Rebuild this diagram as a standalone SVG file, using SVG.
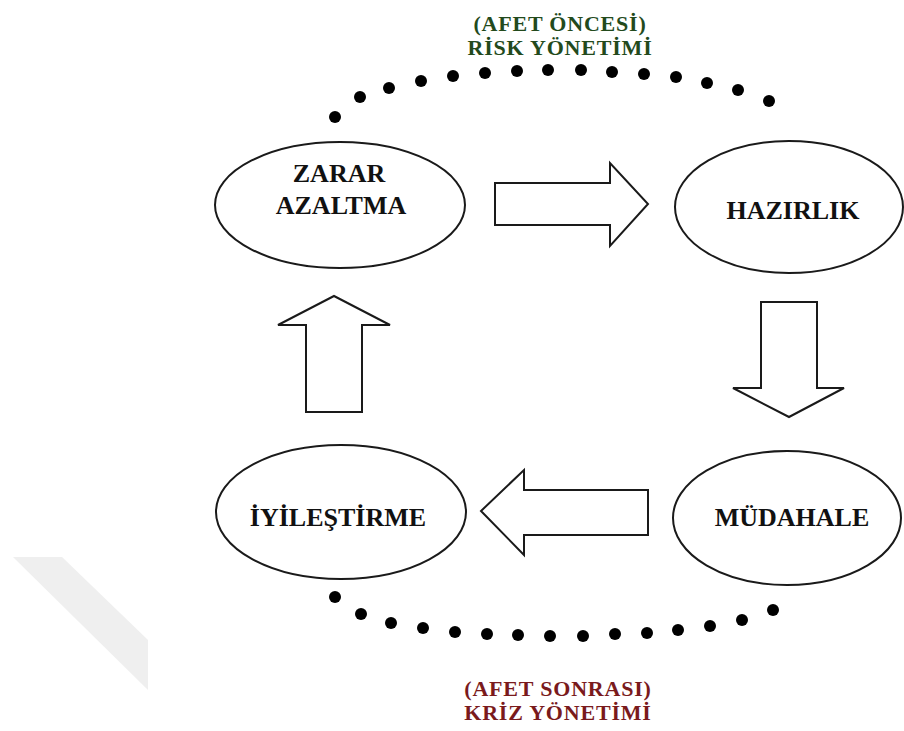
<svg xmlns="http://www.w3.org/2000/svg" width="904" height="731" viewBox="0 0 904 731">
<defs>
<style>
.node ellipse{fill:#fff;stroke:#1a1a1a;stroke-width:2}
.lbl{font-family:"Liberation Serif","Times New Roman",serif;font-weight:bold;font-size:26px;fill:#111;text-anchor:middle}
.arrow{fill:#fff;stroke:#1a1a1a;stroke-width:2;stroke-linejoin:miter}
.dots circle{fill:#000}
.ttl{font-family:"Liberation Serif","Times New Roman",serif;font-weight:bold;font-size:22px;letter-spacing:0.8px;text-anchor:middle}
.green{fill:#234a1c}
.red{fill:#7a1a1c}
</style>
</defs>
<rect width="904" height="731" fill="#fff"/>
<polygon points="13,557 62,557 148,640 148,690" fill="#efefef"/>

<g id="title-top" class="ttl green">
<text x="560" y="31">(AFET ÖNCESİ)</text>
<text x="560" y="55">RİSK YÖNETİMİ</text>
</g>
<g id="title-bottom" class="ttl red">
<text x="558" y="696">(AFET SONRASI)</text>
<text x="558" y="720">KRİZ YÖNETİMİ</text>
</g>

<g id="dots-top" class="dots">
<circle cx="335" cy="117" r="6"/><circle cx="360" cy="97" r="6"/><circle cx="389" cy="88" r="6"/><circle cx="421" cy="81" r="6"/><circle cx="453" cy="76" r="6"/><circle cx="485" cy="73" r="6"/><circle cx="517" cy="71" r="6"/><circle cx="548" cy="70" r="6"/><circle cx="581" cy="70" r="6"/><circle cx="612" cy="72" r="6"/><circle cx="644" cy="74" r="6"/><circle cx="676" cy="77" r="6"/><circle cx="707" cy="83" r="6"/><circle cx="738" cy="90" r="6"/><circle cx="769" cy="101" r="6"/>
</g>
<g id="dots-bottom" class="dots">
<circle cx="335" cy="597" r="6"/><circle cx="361" cy="614" r="6"/><circle cx="391" cy="623" r="6"/><circle cx="423" cy="628" r="6"/><circle cx="455" cy="632" r="6"/><circle cx="487" cy="634" r="6"/><circle cx="518" cy="635" r="6"/><circle cx="550" cy="636" r="6"/><circle cx="583" cy="636" r="6"/><circle cx="615" cy="634" r="6"/><circle cx="647" cy="633" r="6"/><circle cx="678" cy="630" r="6"/><circle cx="710" cy="626" r="6"/><circle cx="742" cy="620" r="6"/><circle cx="773" cy="610" r="6"/>
</g>

<g id="connectors">
<path class="arrow" d="M495,183 H610 V163 L648,204 L610,246 V225 H495 Z"/>
<path class="arrow" d="M761,302 H817 V388 H844 L789,417 L733,388 H761 Z"/>
<path class="arrow" d="M648,490 H524 V470 L481,511 L524,555 V535 H648 Z"/>
<path class="arrow" d="M306,412 V325 H278 L334,296 L390,325 H362 V412 Z"/>
</g>

<g id="node-zarar" class="node">
<ellipse cx="340" cy="205" rx="125" ry="63"/>
<text class="lbl" x="339" y="182">ZARAR</text>
<text class="lbl" x="341" y="214">AZALTMA</text>
</g>
<g id="node-hazirlik" class="node">
<ellipse cx="789" cy="207" rx="114" ry="66"/>
<text class="lbl" x="793" y="219">HAZIRLIK</text>
</g>
<g id="node-mudahale" class="node">
<ellipse cx="787" cy="518" rx="114" ry="67"/>
<text class="lbl" x="792" y="526">MÜDAHALE</text>
</g>
<g id="node-iyilestirme" class="node">
<ellipse cx="341" cy="512" rx="125" ry="67"/>
<text class="lbl" x="338" y="526">İYİLEŞTİRME</text>
</g>
</svg>
